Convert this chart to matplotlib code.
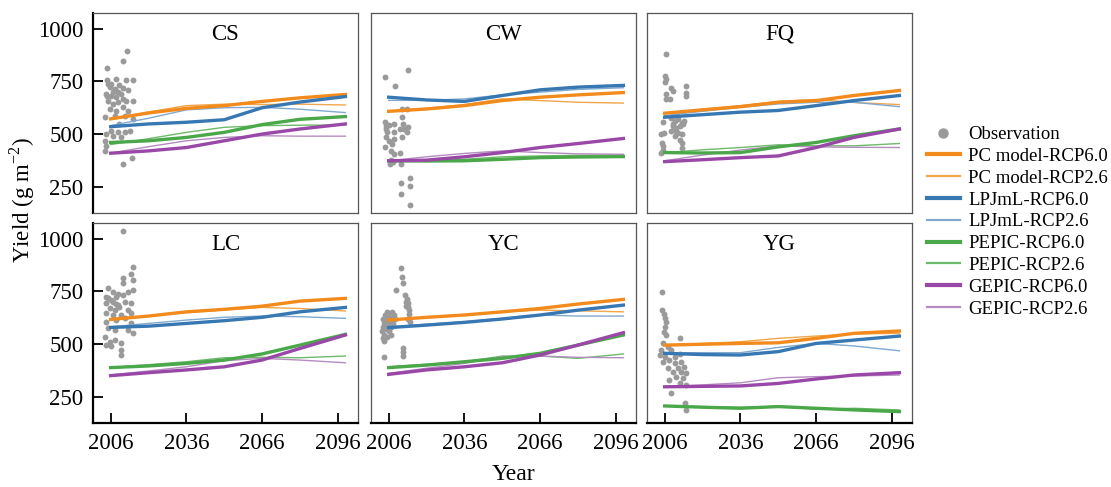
import numpy as np
import matplotlib
matplotlib.use("Agg")
import matplotlib.pyplot as plt
from matplotlib.lines import Line2D

plt.rcParams["font.family"] = ["Liberation Serif", "DejaVu Serif"]
plt.rcParams["mathtext.fontset"] = "custom"
plt.rcParams["mathtext.rm"] = "Liberation Serif"

years = [2006, 2021, 2036, 2051, 2066, 2081, 2099]
sites = ["CS", "CW", "FQ", "LC", "YC", "YG"]
series = ["PC model-RCP6.0", "PC model-RCP2.6", "LPJmL-RCP6.0", "LPJmL-RCP2.6",
          "PEPIC-RCP6.0", "PEPIC-RCP2.6", "GEPIC-RCP6.0", "GEPIC-RCP2.6"]

# model yields per site, order as in series
cs = [[572, 600, 622, 635, 655, 672, 688],
      [570, 605, 635, 642, 640, 642, 638],
      [535, 548, 556, 568, 625, 652, 678],
      [540, 575, 615, 625, 627, 618, 602],
      [460, 468, 484, 508, 545, 570, 583],
      [450, 478, 508, 532, 540, 542, 543],
      [409, 420, 436, 468, 500, 524, 548],
      [410, 440, 468, 484, 492, 490, 490]]
cw = [[608, 619, 635, 659, 675, 686, 697],
      [608, 622, 640, 667, 659, 651, 647],
      [675, 662, 655, 683, 710, 723, 731],
      [660, 660, 667, 686, 699, 712, 720],
      [373, 372, 373, 380, 388, 391, 393],
      [369, 374, 380, 392, 396, 399, 401],
      [373, 376, 392, 412, 436, 455, 479],
      [373, 392, 408, 420, 412, 406, 404]]
fq = [[599, 615, 630, 651, 659, 683, 707],
      [599, 618, 635, 655, 664, 650, 640],
      [580, 592, 604, 612, 635, 659, 683],
      [588, 608, 627, 643, 651, 651, 630],
      [412, 410, 412, 439, 460, 492, 524],
      [412, 425, 436, 449, 444, 444, 455],
      [369, 378, 388, 396, 436, 484, 524],
      [373, 400, 424, 444, 439, 437, 436]]
lc = [[617, 633, 653, 665, 680, 704, 717],
      [617, 633, 649, 662, 674, 669, 657],
      [579, 585, 598, 611, 627, 653, 674],
      [582, 598, 614, 627, 633, 630, 622],
      [388, 396, 408, 424, 453, 495, 546],
      [389, 402, 416, 435, 437, 435, 443],
      [350, 364, 377, 392, 424, 479, 543],
      [353, 372, 392, 421, 432, 424, 411]]
yc = [[614, 627, 638, 653, 669, 690, 712],
      [614, 627, 638, 653, 661, 658, 653],
      [578, 590, 603, 619, 638, 661, 685],
      [582, 594, 606, 622, 638, 633, 633],
      [388, 400, 416, 432, 456, 495, 543],
      [392, 404, 416, 443, 443, 432, 453],
      [356, 377, 392, 411, 448, 495, 554],
      [361, 385, 408, 440, 443, 437, 435]]
yg = [[495, 499, 503, 506, 527, 551, 562],
      [495, 503, 511, 527, 538, 548, 551],
      [456, 450, 448, 464, 503, 519, 538],
      [459, 459, 459, 484, 503, 491, 468],
      [206, 200, 195, 203, 195, 187, 179],
      [206, 203, 200, 203, 190, 195, 187],
      [297, 299, 301, 313, 334, 353, 364],
      [297, 306, 316, 340, 345, 348, 353]]

# observations (plotted around the start year)
cs_obs_x = [2012.5, 2004.6, 2010.8, 2004.6, 2004.8, 2008.2, 2012.1, 2014.8, 2005.6, 2007.6,
            2009.5, 2010.8, 2012.8, 2004.3, 2006.3, 2008.2, 2010.2, 2005.0, 2006.9, 2008.9,
            2012.1, 2014.8, 2005.6, 2008.2, 2010.8, 2012.8, 2007.6, 2011.5, 2003.6, 2014.8,
            2009.5, 2006.3, 2008.9, 2011.5, 2013.5, 2004.3, 2006.9, 2010.2, 2003.6, 2004.0,
            2003.8, 2010.8, 2014.5, 2004.6, 2007.0, 2009.0, 2011.0, 2006.0]
cs_obs_y = [893, 815, 846, 755, 740, 763, 755, 755, 723, 715,
            731, 720, 707, 691, 683, 675, 691, 659, 643, 651,
            659, 659, 619, 611, 627, 611, 588, 588, 580, 572,
            548, 516, 508, 508, 516, 500, 492, 484, 468, 444,
            420, 357, 385, 683, 700, 700, 668, 740]
cw_obs_x = [2004.4, 2008.5, 2013.6, 2004.4, 2004.8, 2005.5, 2004.8, 2006.1, 2004.4, 2008.3,
            2008.0, 2008.3, 2007.4, 2007.0, 2011.4, 2013.3, 2011.4, 2011.8, 2013.6, 2012.0,
            2013.3, 2011.4, 2010.4, 2008.0, 2010.4, 2006.8, 2007.8, 2010.7, 2010.7, 2014.6,
            2014.6, 2010.7, 2014.6, 2006.5, 2005.0, 2006.0]
cw_obs_y = [771, 726, 803, 556, 540, 508, 484, 468, 439, 548,
            508, 476, 452, 420, 619, 619, 580, 548, 535, 524,
            508, 484, 524, 404, 408, 376, 365, 357, 269, 293,
            253, 216, 165, 357, 525, 545]
fq_obs_x = [2006.4, 2006.0, 2006.4, 2006.0, 2008.7, 2009.3, 2006.4, 2014.3, 2014.6, 2014.6,
            2008.0, 2006.7, 2008.7, 2010.0, 2011.3, 2012.7, 2009.3, 2010.6, 2012.0, 2013.3,
            2008.7, 2011.3, 2012.7, 2010.0, 2012.0, 2005.3, 2004.7, 2005.6, 2012.7, 2012.7,
            2005.0, 2005.3, 2004.7, 2005.3, 2011.0, 2009.5, 2013.8, 2010.5]
fq_obs_y = [881, 777, 761, 745, 721, 705, 690, 729, 697, 682,
            666, 666, 578, 562, 570, 554, 538, 530, 538, 546,
            514, 506, 498, 490, 474, 557, 498, 506, 458, 434,
            458, 442, 410, 426, 585, 550, 560, 515]
lc_obs_x = [2010.8, 2014.8, 2014.1, 2010.8, 2010.8, 2014.8, 2005.0, 2006.9, 2008.9, 2008.2,
            2005.0, 2010.8, 2012.8, 2014.8, 2004.3, 2006.9, 2008.9, 2011.5, 2014.1, 2005.6,
            2007.6, 2009.5, 2012.8, 2004.3, 2006.9, 2010.2, 2014.1, 2011.5, 2008.2, 2004.3,
            2014.1, 2005.0, 2007.6, 2012.8, 2014.8, 2003.6, 2005.6, 2007.6, 2004.3, 2010.2,
            2010.0, 2010.2, 2006.3, 2006.0, 2008.0, 2004.0]
lc_obs_y = [1038, 867, 835, 812, 788, 804, 764, 748, 740, 725,
            717, 733, 748, 756, 693, 701, 685, 701, 693, 669,
            661, 677, 661, 646, 638, 638, 646, 622, 614, 606,
            598, 574, 566, 566, 551, 535, 511, 519, 495, 503,
            472, 448, 490, 710, 690, 725]
yc_obs_x = [2010.7, 2011.3, 2011.5, 2009.0, 2012.6, 2013.2, 2013.5, 2013.8, 2014.0, 2014.2,
            2013.0, 2012.8, 2013.8, 2014.4, 2003.5, 2003.8, 2004.0, 2004.2, 2004.6, 2004.8,
            2005.0, 2005.3, 2005.6, 2005.8, 2006.0, 2006.3, 2006.6, 2006.9, 2007.2, 2007.5,
            2007.8, 2008.2, 2003.6, 2004.4, 2005.2, 2006.8, 2008.5, 2003.9, 2004.3, 2004.2,
            2011.8, 2011.8, 2011.7]
yc_obs_y = [861, 820, 790, 756, 735, 715, 695, 675, 660, 645,
            700, 680, 620, 605, 560, 580, 600, 545, 620, 570,
            590, 535, 610, 640, 560, 600, 625, 580, 650, 615,
            595, 640, 620, 640, 650, 545, 620, 530, 515, 440,
            480, 464, 443]
yg_obs_x = [2005.0, 2005.0, 2005.6, 2006.0, 2006.7, 2006.0, 2005.6, 2006.7, 2011.9, 2005.3,
            2007.3, 2008.6, 2004.0, 2006.0, 2007.9, 2005.3, 2009.9, 2012.5, 2013.8, 2011.2,
            2007.3, 2009.3, 2012.5, 2014.4, 2010.5, 2013.2, 2007.9, 2011.9, 2014.4, 2008.6,
            2014.1, 2014.4, 2004.6, 2010.0, 2012.0]
yg_obs_y = [747, 662, 642, 622, 603, 582, 558, 543, 527, 503,
            487, 471, 448, 440, 424, 416, 408, 416, 392, 385,
            385, 369, 369, 361, 345, 337, 329, 313, 305, 266,
            218, 186, 471, 440, 455]

site_data = [cs, cw, fq, lc, yc, yg]
obs_x = [cs_obs_x, cw_obs_x, fq_obs_x, lc_obs_x, yc_obs_x, yg_obs_x]
obs_y = [cs_obs_y, cw_obs_y, fq_obs_y, lc_obs_y, yc_obs_y, yg_obs_y]

colors = ["#f28a1c", "#f0a64a", "#3878b2", "#80a9cf", "#4aa84a", "#6dba6a", "#9a48a8", "#b58cc0"]
widths = [2.4, 1.0, 2.4, 1.0, 2.4, 1.0, 2.4, 1.0]

fig = plt.figure(figsize=(11.11, 4.87), dpi=100)
lefts = [93, 371, 647]
tops = [13, 223]
W, H = 1111.0, 487.0

for i, site in enumerate(sites):
    r, c = divmod(i, 3)
    ax = fig.add_axes([lefts[c] / W, 1 - (tops[r] + 200) / H, 265 / W, 200 / H])
    ax.scatter(obs_x[i], obs_y[i], s=18, color="#9a9a9a", lw=0, zorder=1)
    for k in range(len(series)):
        ax.plot(years, site_data[i][k], color=colors[k], lw=widths[k], zorder=3 if k % 2 == 0 else 2)
    ax.set_xlim(1999, 2104)
    ax.set_ylim(125, 1075)
    ax.text(0.5, 0.895, site, transform=ax.transAxes, ha="center", va="center", fontsize=16.5)
    for s in ax.spines.values():
        s.set_color("#555555")
        s.set_linewidth(0.9)
    ax.tick_params(direction="in", length=7, width=1.3, labelsize=16.5, color="black")
    if c == 0:
        ax.spines["left"].set_color("black")
        ax.spines["left"].set_linewidth(1.6)
        ax.set_yticks([250, 500, 750, 1000])
        ax.tick_params(axis="y", pad=7)
    else:
        ax.set_yticks([])
    if r == 1:
        ax.spines["bottom"].set_color("black")
        ax.spines["bottom"].set_linewidth(1.6)
        ax.set_xticks([2006, 2036, 2066, 2096])
        ax.tick_params(axis="x", pad=7)
    else:
        ax.set_xticks([])

handles = [Line2D([], [], marker="o", ls="none", color="#9a9a9a", markersize=6.5)]
for k in range(len(series)):
    handles.append(Line2D([], [], color=colors[k], lw=widths[k] + 0.6))
fig.legend(handles, ["Observation"] + series, loc="upper left",
           bbox_to_anchor=(927 / W, 1 - 126 / H), frameon=False, fontsize=13.5,
           labelspacing=0.25, handlelength=1.75, handletextpad=0.45, borderpad=0,
           borderaxespad=0)

fig.text(22 / W, 1 - 200 / H, "Yield (g m$^{-2}$)", rotation=90, ha="center", va="center", fontsize=16.5)
fig.text(513 / W, 1 - 475 / H, "Year", ha="center", va="center", fontsize=17)

fig.savefig("out.png", dpi=100)
